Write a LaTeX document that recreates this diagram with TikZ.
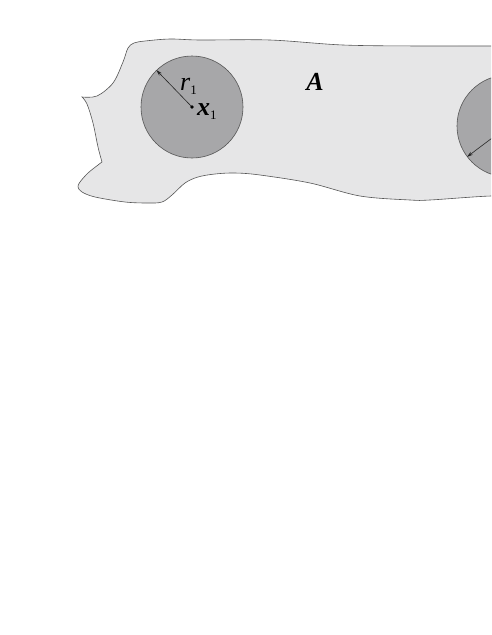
\documentclass[tikz,border=0pt]{standalone}
\usepackage{fontspec}
\setmainfont{Liberation Serif}
\usetikzlibrary{arrows.meta}
\definecolor{blobfill}{RGB}{230,230,231}
\definecolor{diskfill}{RGB}{167,167,169}
\definecolor{edgecol}{RGB}{85,85,85}
\tikzset{
  region/.style={fill=blobfill, draw=edgecol, line width=0.6pt},
  disk/.style={circle, fill=diskfill, draw=edgecol, line width=0.6pt, minimum size=102pt, inner sep=0pt},
  radius arrow/.style={-{Stealth[length=6pt,width=3.5pt]}, line width=0.6pt, black!85},
  biglabel/.style={inner sep=0pt, anchor=base west, font=\fontsize{26}{26}\selectfont}
}
\newcommand{\subone}{\raisebox{-4pt}{\fontsize{13}{13}\selectfont 1}}
\begin{document}
\begin{tikzpicture}[x=1pt,y=-1pt]
\useasboundingbox (0,0) rectangle (491,635);
\begin{scope}
\clip (0,0) rectangle (491,635);
\path[region] (82,97)
  -- plot[smooth, tension=0.55] coordinates {(82,97) (97,96) (113,83) (123,62) (128,48) (134,43) (145,41) (170,39) (200,40) (270,40) (343,45) (420,46) (491,46) (530,47)}
  -- (530,197)
  -- plot[smooth, tension=0.55] coordinates {(530,197) (491,196) (430,200) (410,200) (360,196) (310,183) (260,175) (235,173) (215,174) (198,177) (185,183) (172,195) (162,202) (148,203) (125,202) (95,197) (82,192) (78,187) (80,182) (88,173) (98,165) (102,162)}
  -- plot[smooth, tension=0.55] coordinates {(102,162) (98,147) (93,123) (87,104) (82,97)}
  -- cycle;
\node[disk] (c1) at (192,107) {};
\node[disk] (c2) at (508,126) {};
\draw[radius arrow] (c1.center) -- (c1.134);
\draw[radius arrow] (c2.center) -- (c2.217);
\end{scope}
\fill[black] (c1.center) circle (1.8pt);
\node[biglabel] (r1) at (180,90) {\textit{r}\subone};
\node[biglabel] (x1) at (197,115) {\textbf{\textit{x}}\subone};
\node[biglabel, anchor=base] (A) at (315,90) {\textbf{\textit{A}}};
\end{tikzpicture}
\end{document}
